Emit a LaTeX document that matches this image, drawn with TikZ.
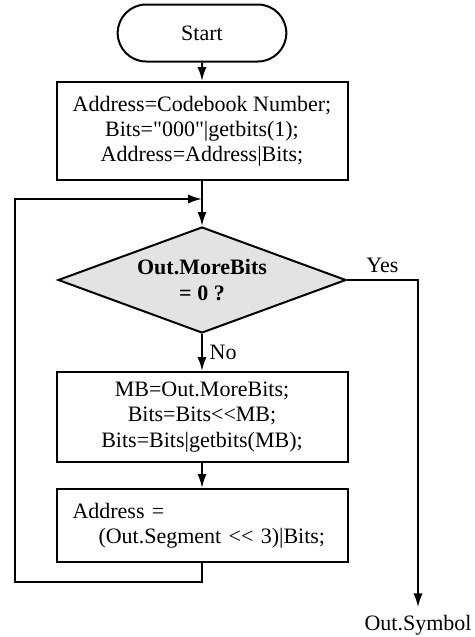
\documentclass[tikz,border=0pt]{standalone}
\usepackage{fontspec}
\setmainfont{Liberation Serif}[Ligatures=TeXOff]
\usetikzlibrary{arrows.meta, shapes.geometric, shapes.misc}

\begin{document}
\begin{tikzpicture}[->,>={Latex[length=7pt,width=4.6pt]},line width=1pt,
  font=\fontsize{11}{12.6}\selectfont,
  term node/.style={rounded rectangle,draw,minimum width=91pt,minimum height=28.5pt},
  proc node/.style={rectangle,draw,minimum width=145.5pt,align=center},
  cond node/.style={diamond,draw,fill=gray!22,aspect=2.72,inner sep=0pt,
    minimum width=144pt,minimum height=53pt,align=center,
    font=\fontsize{11}{12.8}\selectfont\bfseries}]
  \useasboundingbox (0,0) rectangle (237.5pt,-318.5pt);
  \node[term node] (start) at (101pt,-16.5pt) {Start};
  \node[proc node, minimum height=49pt] (p1) [below of=start, node distance=49pt]
    {Address=Codebook Number;\\ Bits="000"|getbits(1);\\ Address=Address|Bits;};
  \node[cond node] (d1) [below of=p1, node distance=74.5pt] {Out.MoreBits\\ = 0 ?};
  \node[proc node, minimum height=45pt] (p2) [below of=d1, node distance=68.5pt]
    {MB=Out.MoreBits;\\ Bits=Bits<<MB;\\ Bits=Bits|getbits(MB);};
  \node[proc node, minimum height=36.5pt, align=left, text width=129.5pt, inner xsep=8pt]
    (p3) [below of=p2, node distance=54.25pt]
    {Address =\\ \hspace*{13pt}(Out.Segment << 3)|Bits;};
  \node (out) at (209pt,-312.5pt) {Out.Symbol};
  \coordinate (join) at (101pt,-99.5pt);
  \coordinate (back) at (7.5pt,-291pt);
  \draw (start) -- (p1);
  \draw (p1) -- (d1);
  \draw (d1) -- node[right] {No} (p2);
  \draw (p2) -- (p3);
  \draw (d1.east) -| node[pos=0.25, above] {Yes} (out);
  \draw (p3.south) |- (back) |- (join);
\end{tikzpicture}
\end{document}
